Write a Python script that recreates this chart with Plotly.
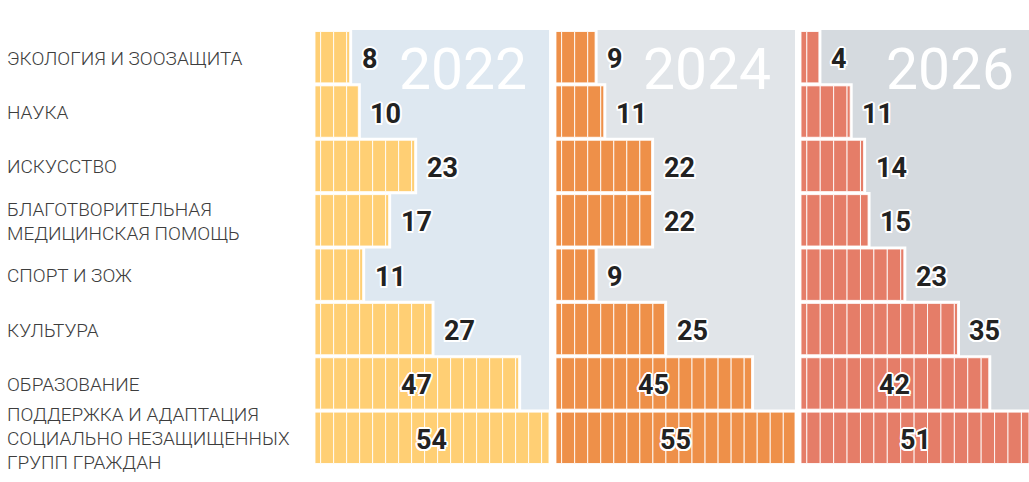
import plotly.graph_objects as go

# ---------------- data ----------------
categories = [
    "ЭКОЛОГИЯ И ЗООЗАЩИТА",
    "НАУКА",
    "ИСКУССТВО",
    "БЛАГОТВОРИТЕЛЬНАЯ<br>МЕДИЦИНСКАЯ ПОМОЩЬ",
    "СПОРТ И ЗОЖ",
    "КУЛЬТУРА",
    "ОБРАЗОВАНИЕ",
    "ПОДДЕРЖКА И АДАПТАЦИЯ<br>СОЦИАЛЬНО НЕЗАЩИЩЕННЫХ<br>ГРУПП ГРАЖДАН",
]
years = ["2022", "2024", "2026"]
values_2022 = [8, 10, 23, 17, 11, 27, 47, 54]
values_2024 = [9, 11, 22, 22, 9, 25, 45, 55]
values_2026 = [4, 11, 14, 15, 23, 35, 42, 51]

# ---------------- style ----------------
series = [values_2022, values_2024, values_2026]
bar_colors = ["#FFCF74", "#EE9049", "#E57D68"]
bg_colors = ["#DEE8F1", "#E1E5E9", "#D5DADF"]
domains = [[0.0, 0.3277], [0.3375, 0.6723], [0.6807, 1.0]]
year_x = [0.91, 0.905, 0.94]
STRIPE = 3.0      # units per stripe
STRIPE_OFF = 1.3  # first stripe offset
LINE_H = 24       # label line height, px
NUM_FONT = "Roboto, 'DejaVu Sans', sans-serif"
LAB_FONT = "Roboto, 'DejaVu Sans', sans-serif"
YEAR_FONT = "Roboto, sans-serif"
outline = ", ".join(
    f"{dx}px {dy}px 0 #ffffff"
    for dx, dy in [(2, 0), (-2, 0), (0, 2), (0, -2), (1.5, 1.5), (-1.5, 1.5), (1.5, -1.5), (-1.5, -1.5)]
)

fig = go.Figure()
shapes = []
annotations = []

for i, vals in enumerate(series):
    xa = "x" if i == 0 else f"x{i+1}"
    # white outline bars (drawn first)
    fig.add_trace(go.Bar(
        x=vals, y=categories, orientation="h", xaxis=xa, yaxis="y",
        marker=dict(color="#ffffff", line=dict(color="#ffffff", width=5)),
        hoverinfo="skip", showlegend=False,
    ))
    # striped segments derived from values
    seg_y, seg_base, seg_w = [], [], []
    for cat, v in zip(categories, vals):
        edges = [0.0]
        b = STRIPE_OFF
        while b < v:
            edges.append(b)
            b += STRIPE
        edges.append(float(v))
        for a, c in zip(edges[:-1], edges[1:]):
            if c - a > 0:
                seg_y.append(cat)
                seg_base.append(a)
                seg_w.append(c - a)
    fig.add_trace(go.Bar(
        x=seg_w, base=seg_base, y=seg_y, orientation="h", xaxis=xa, yaxis="y",
        marker=dict(color=bar_colors[i], line=dict(color="rgba(255,255,255,0.85)", width=1)),
        hoverinfo="skip", showlegend=False,
    ))
    # panel background
    shapes.append(dict(type="rect", xref=f"{xa} domain", yref="y domain",
                       x0=0, x1=1, y0=0, y1=1, fillcolor=bg_colors[i],
                       line=dict(width=0), layer="below"))
    # year label
    annotations.append(dict(
        text=years[i], xref=f"{xa} domain", yref="paper", x=year_x[i], y=0.91,
        xanchor="right", yanchor="middle", showarrow=False, borderpad=0,
        font=dict(family=YEAR_FONT, size=57, color="#ffffff", weight=400),
    ))
    vmax = max(vals)
    for cat, v in zip(categories, vals):
        inside = v >= 0.75 * vmax
        annotations.append(dict(
            text=str(v), x=(v / 2 if inside else v), y=cat, xref=xa, yref="y",
            xanchor="center" if inside else "left", xshift=0 if inside else 10, yshift=-2,
            showarrow=False,
            font=dict(family=NUM_FONT, size=27, color="#222222", weight=700, shadow=outline),
        ))
    fig.update_layout(**{
        ("xaxis" if i == 0 else f"xaxis{i+1}"): dict(
            domain=domains[i], range=[0, vmax], anchor="y",
            showgrid=False, zeroline=False, showticklabels=False, showline=False,
            fixedrange=True,
        )
    })

# category labels, one annotation per line for a taller line spacing
for cat in categories:
    lines = cat.split("<br>")
    n = len(lines)
    for j, line in enumerate(lines):
        annotations.append(dict(
            text=line, x=0, y=cat, xref="paper", yref="y", xanchor="left", xshift=-310,
            yshift=((n - 1) / 2 - j) * LINE_H - 1, yanchor="middle",
            align="left", showarrow=False,
            font=dict(family=LAB_FONT, size=19, color="#3d3d3d", weight=300),
        ))

fig.update_layout(
    width=1029, height=482,
    margin=dict(l=315, r=0, t=30, b=17),
    paper_bgcolor="#ffffff", plot_bgcolor="rgba(0,0,0,0)",
    barmode="overlay", bargap=0.055,
    yaxis=dict(type="category", categoryorder="array", categoryarray=categories,
               range=[7.5, -0.5], showgrid=False, zeroline=False,
               showticklabels=False, showline=False, fixedrange=True),
    shapes=shapes, annotations=annotations,
    font=dict(family=LAB_FONT),
)

fig.write_html("out.html")
